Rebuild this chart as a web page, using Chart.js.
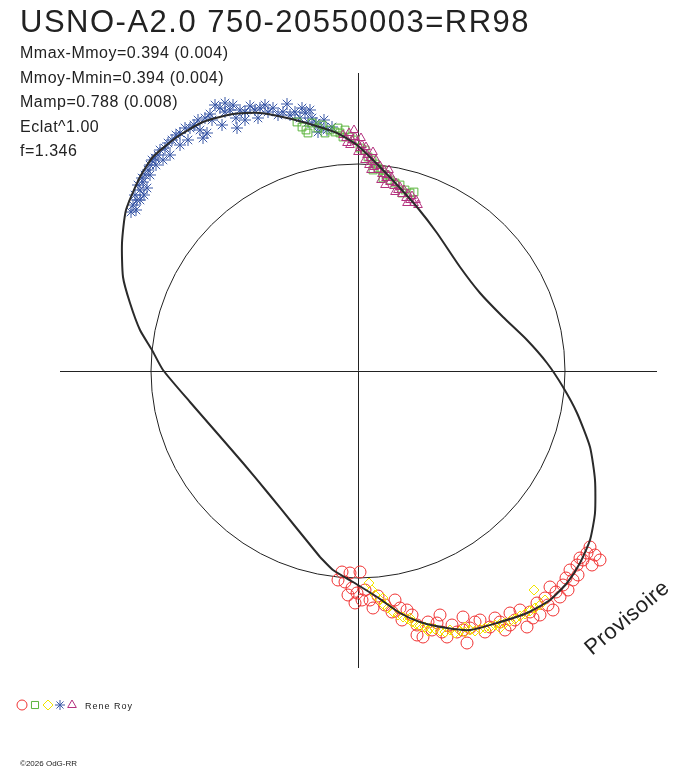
<!DOCTYPE html>
<html>
<head>
<meta charset="utf-8">
<script src="https://cdn.jsdelivr.net/npm/chart.js@4.4.0/dist/chart.umd.min.js"></script>
<style>
  html, body { margin: 0; padding: 0; background: #fff; }
  canvas { display: block; }
</style>
</head>
<body>
<canvas id="myChart" width="688" height="768"></canvas>
<script>
// units: arbitrary, same scale on both axes, origin at the cross
const circleRadius = 207;

// mean light curve, closed loop
const curvePts = [
  [-38,-186],[-64,-154],[-90,-122],[-115,-92],[-141,-62],[-168,-31],[-195,1],[-206,21],
  [-218,41],[-228,68],[-235,94],[-236,128],[-232,161],[-218,194],[-205,214],[-181,234],
  [-155,249],[-125,257],[-98,258],[-71,253],[-45,246],[-21,238],[-1,226],[22,204],[42,183],
  [59,164],[79,138],[102,104],[122,78],[145,54],[169,31],[189,8],[205,-16],[219,-42],
  [232,-76],[237,-109],[237,-142],[232,-169],[222,-192],[209,-212],[192,-229],[169,-242],
  [139,-252],[112,-259],[89,-257],[62,-251],[42,-242],[19,-226],[-5,-211],[-25,-199],
  [-38,-186]
];

// observers (circle, square, diamond, star, triangle)
const circlePts = [
  [-16,-201],[-8,-202],[2,-201],[-13,-211],[-6,-217],[-10,-224],[-1,-222],[7,-219],[4,-229],
  [12,-229],[15,-237],[20,-225],[27,-234],[34,-241],[42,-237],[49,-239],[44,-249],[54,-244],
  [59,-254],[59,-264],[65,-266],[70,-251],[74,-259],[79,-252],[84,-261],[89,-266],[94,-254],
  [99,-261],[105,-246],[109,-272],[112,-257],[117,-251],[122,-249],[127,-261],[132,-256],
  [137,-247],[142,-251],[147,-259],[152,-242],[157,-249],[162,-239],[169,-256],[172,-241],
  [179,-232],[182,-244],[187,-227],[192,-216],[195,-239],[198,-221],[202,-226],[205,-214],
  [208,-207],[212,-199],[215,-209],[219,-194],[222,-187],[225,-189],[229,-182],[232,-176],
  [237,-184],[242,-189],[234,-194],[220,-204],[210,-219],[190,-234],[175,-247],[152,-254],
  [105,-259],[82,-244],[37,-229],[-3,-232],[-20,-209]
];

const squarePts = [
  [-61,249],[-56,244],[-52,241],[-46,248],[-40,243],[-36,246],[-33,238],[-28,241],[-23,239],
  [-18,238],[-13,241],[-15,234],[-8,234],[-3,231],[2,223],[7,221],[10,214],[14,211],[17,207],
  [20,203],[24,201],[28,196],[32,191],[37,188],[42,186],[47,181],[52,178],[56,179],[-50,238],
  [-20,243],[15,201],[25,193],[44,178]
];

const diamondPts = [
  [11,-212],[14,-219],[17,-224],[22,-229],[26,-234],[30,-237],[35,-241],[40,-244],[45,-246],
  [50,-248],[54,-251],[58,-253],[62,-255],[67,-256],[72,-257],[77,-258],[82,-260],[87,-261],
  [92,-259],[97,-262],[102,-260],[107,-261],[112,-259],[117,-260],[122,-258],[127,-257],
  [132,-256],[137,-254],[142,-253],[147,-252],[152,-250],[157,-248],[162,-245],[167,-243],
  [172,-240],[177,-237],[182,-234],[176,-219],[187,-229],[70,-260],[107,-256],[142,-257],
  [25,-227],[52,-247]
];

const starPts = [
  [-225,166],[-221,171],[-223,176],[-218,181],[-220,186],[-215,189],[-213,196],[-210,201],
  [-216,193],[-208,206],[-206,211],[-203,213],[-200,216],[-211,183],[-218,171],[-222,161],
  [-227,159],[-214,176],[-208,196],[-202,206],[-198,221],[-193,223],[-190,228],[-186,231],
  [-182,236],[-178,238],[-173,243],[-168,243],[-164,246],[-160,251],[-153,253],[-148,257],
  [-158,241],[-151,238],[-155,233],[-146,251],[-143,266],[-138,263],[-133,259],[-136,246],
  [-133,268],[-128,261],[-125,266],[-122,253],[-118,261],[-121,243],[-113,259],[-108,265],
  [-103,261],[-98,263],[-93,266],[-90,259],[-85,263],[-80,256],[-75,259],[-71,267],[-68,256],
  [-63,259],[-58,253],[-53,258],[-50,249],[-46,253],[-42,248],[-38,244],[-34,251],[-31,241],
  [-26,244],[-40,239],[-48,261],[-56,263],[-113,251],[-100,253],[-188,216],[-195,211],
  [-178,226],[-170,231]
];

const trianglePts = [
  [-15,236],[-12,233],[-9,238],[-6,231],[-3,234],[-8,226],[-1,229],[2,223],[0,219],[4,226],
  [6,219],[9,216],[7,211],[12,213],[14,209],[11,206],[16,204],[18,211],[20,201],[22,205],
  [24,197],[26,201],[28,193],[30,196],[32,189],[34,193],[36,185],[38,188],[40,181],[42,184],
  [44,177],[46,181],[48,173],[50,177],[52,171],[54,175],[56,168],[58,171],[60,166],[-4,241],
  [3,233],[-11,228],[15,219],[27,186],[37,179],[13,201],[23,191],[49,168],[8,224],[31,201]
];

const titleText = 'USNO-A2.0 750-20550003=RR98';
const statLines = [
  'Mmax-Mmoy=0.394 (0.004)',
  'Mmoy-Mmin=0.394 (0.004)',
  'Mamp=0.788 (0.008)',
  'Eclat^1.00',
  'f=1.346'
];
const observerName = 'Rene Roy';
const copyText = '\u00a92026 OdG-RR';
const stampText = 'Provisoire';

const colRed = '#f03232';
const colGreen = '#5ab43c';
const colYellow = '#f2e400';
const colBlue = '#3c5aa8';
const colMagenta = '#b4327f';
const ink = '#222222';

function toXY(arr) {
  return arr.map(p => ({x: p[0], y: p[1]}));
}

function pointSet(pts, style, color, r) {
  return {
    data: toXY(pts),
    showLine: false,
    pointStyle: style,
    pointRadius: r,
    pointBorderColor: color,
    pointBackgroundColor: 'rgba(0,0,0,0)',
    pointBorderWidth: 1
  };
}

// axes cross and reference circle, under the data
const backdrop = {
  id: 'backdrop',
  beforeDatasetsDraw(chart) {
    const c = chart.ctx, a = chart.chartArea;
    const sx = chart.scales.x, sy = chart.scales.y;
    const cx = sx.getPixelForValue(0), cy = sy.getPixelForValue(0);
    const rad = sx.getPixelForValue(circleRadius) - cx;
    c.save();
    c.strokeStyle = ink;
    c.lineWidth = 1;
    c.beginPath();
    c.moveTo(a.left, Math.round(cy) + 0.5);
    c.lineTo(a.right, Math.round(cy) + 0.5);
    c.moveTo(Math.round(cx) + 0.5, a.top);
    c.lineTo(Math.round(cx) + 0.5, a.bottom);
    c.stroke();
    c.beginPath();
    c.arc(cx, cy, rad, 0, Math.PI * 2);
    c.stroke();
    c.restore();
  }
};

const texts = {
  id: 'texts',
  afterDraw(chart) {
    const c = chart.ctx;
    c.save();
    c.fillStyle = ink;
    c.textBaseline = 'alphabetic';
    c.textAlign = 'left';

    c.font = '31px "Liberation Sans", Arial, sans-serif';
    c.letterSpacing = '1.5px';
    c.fillText(titleText, 20, 32);

    c.font = '16px "Liberation Sans", Arial, sans-serif';
    c.letterSpacing = '0.5px';
    statLines.forEach((s, i) => c.fillText(s, 20, 58 + i * 24.5));

    // legend symbols
    const legend = [
      ['circle', colRed, 5, 22],
      ['rect', colGreen, 5, 35],
      ['rectRot', colYellow, 5, 48],
      ['star', colBlue, 5, 60],
      ['triangle', colMagenta, 5, 72]
    ];
    legend.forEach(l => {
      c.strokeStyle = l[1];
      c.fillStyle = 'rgba(0,0,0,0)';
      c.lineWidth = 1;
      Chart.helpers.drawPoint(c, {pointStyle: l[0], radius: l[2], rotation: 0, borderWidth: 1}, l[3], 705);
    });

    c.fillStyle = ink;
    c.font = '9px "Liberation Sans", Arial, sans-serif';
    c.letterSpacing = '1px';
    c.fillText(observerName, 85, 709);

    c.font = '8px "Liberation Sans", Arial, sans-serif';
    c.letterSpacing = '0px';
    c.fillText(copyText, 20, 766);

    c.translate(592, 656);
    c.rotate(-40 * Math.PI / 180);
    c.font = '22px "Liberation Sans", Arial, sans-serif';
    c.letterSpacing = '0.5px';
    c.fillText(stampText, 0, 0);
    c.restore();
  }
};

const chart = new Chart(document.getElementById('myChart'), {
  type: 'scatter',
  data: {
    datasets: [
      {
        data: toXY(curvePts),
        showLine: true,
        borderColor: '#2a2a2a',
        borderWidth: 2,
        tension: 0.2,
        pointRadius: 0,
        fill: false
      },
      pointSet(trianglePts, 'triangle', colMagenta, 5),
      pointSet(squarePts, 'rect', colGreen, 5.5),
      pointSet(starPts, 'star', colBlue, 6),
      pointSet(diamondPts, 'rectRot', colYellow, 5),
      pointSet(circlePts, 'circle', colRed, 6)
    ]
  },
  options: {
    responsive: false,
    animation: false,
    devicePixelRatio: 1,
    layout: { padding: { left: 60, right: 31, top: 73, bottom: 100 } },
    plugins: { legend: { display: false }, tooltip: { enabled: false } },
    scales: {
      x: { type: 'linear', min: -298, max: 299, display: false },
      y: { type: 'linear', min: -297, max: 298, display: false }
    }
  },
  plugins: [backdrop, texts]
});
</script>
</body>
</html>
